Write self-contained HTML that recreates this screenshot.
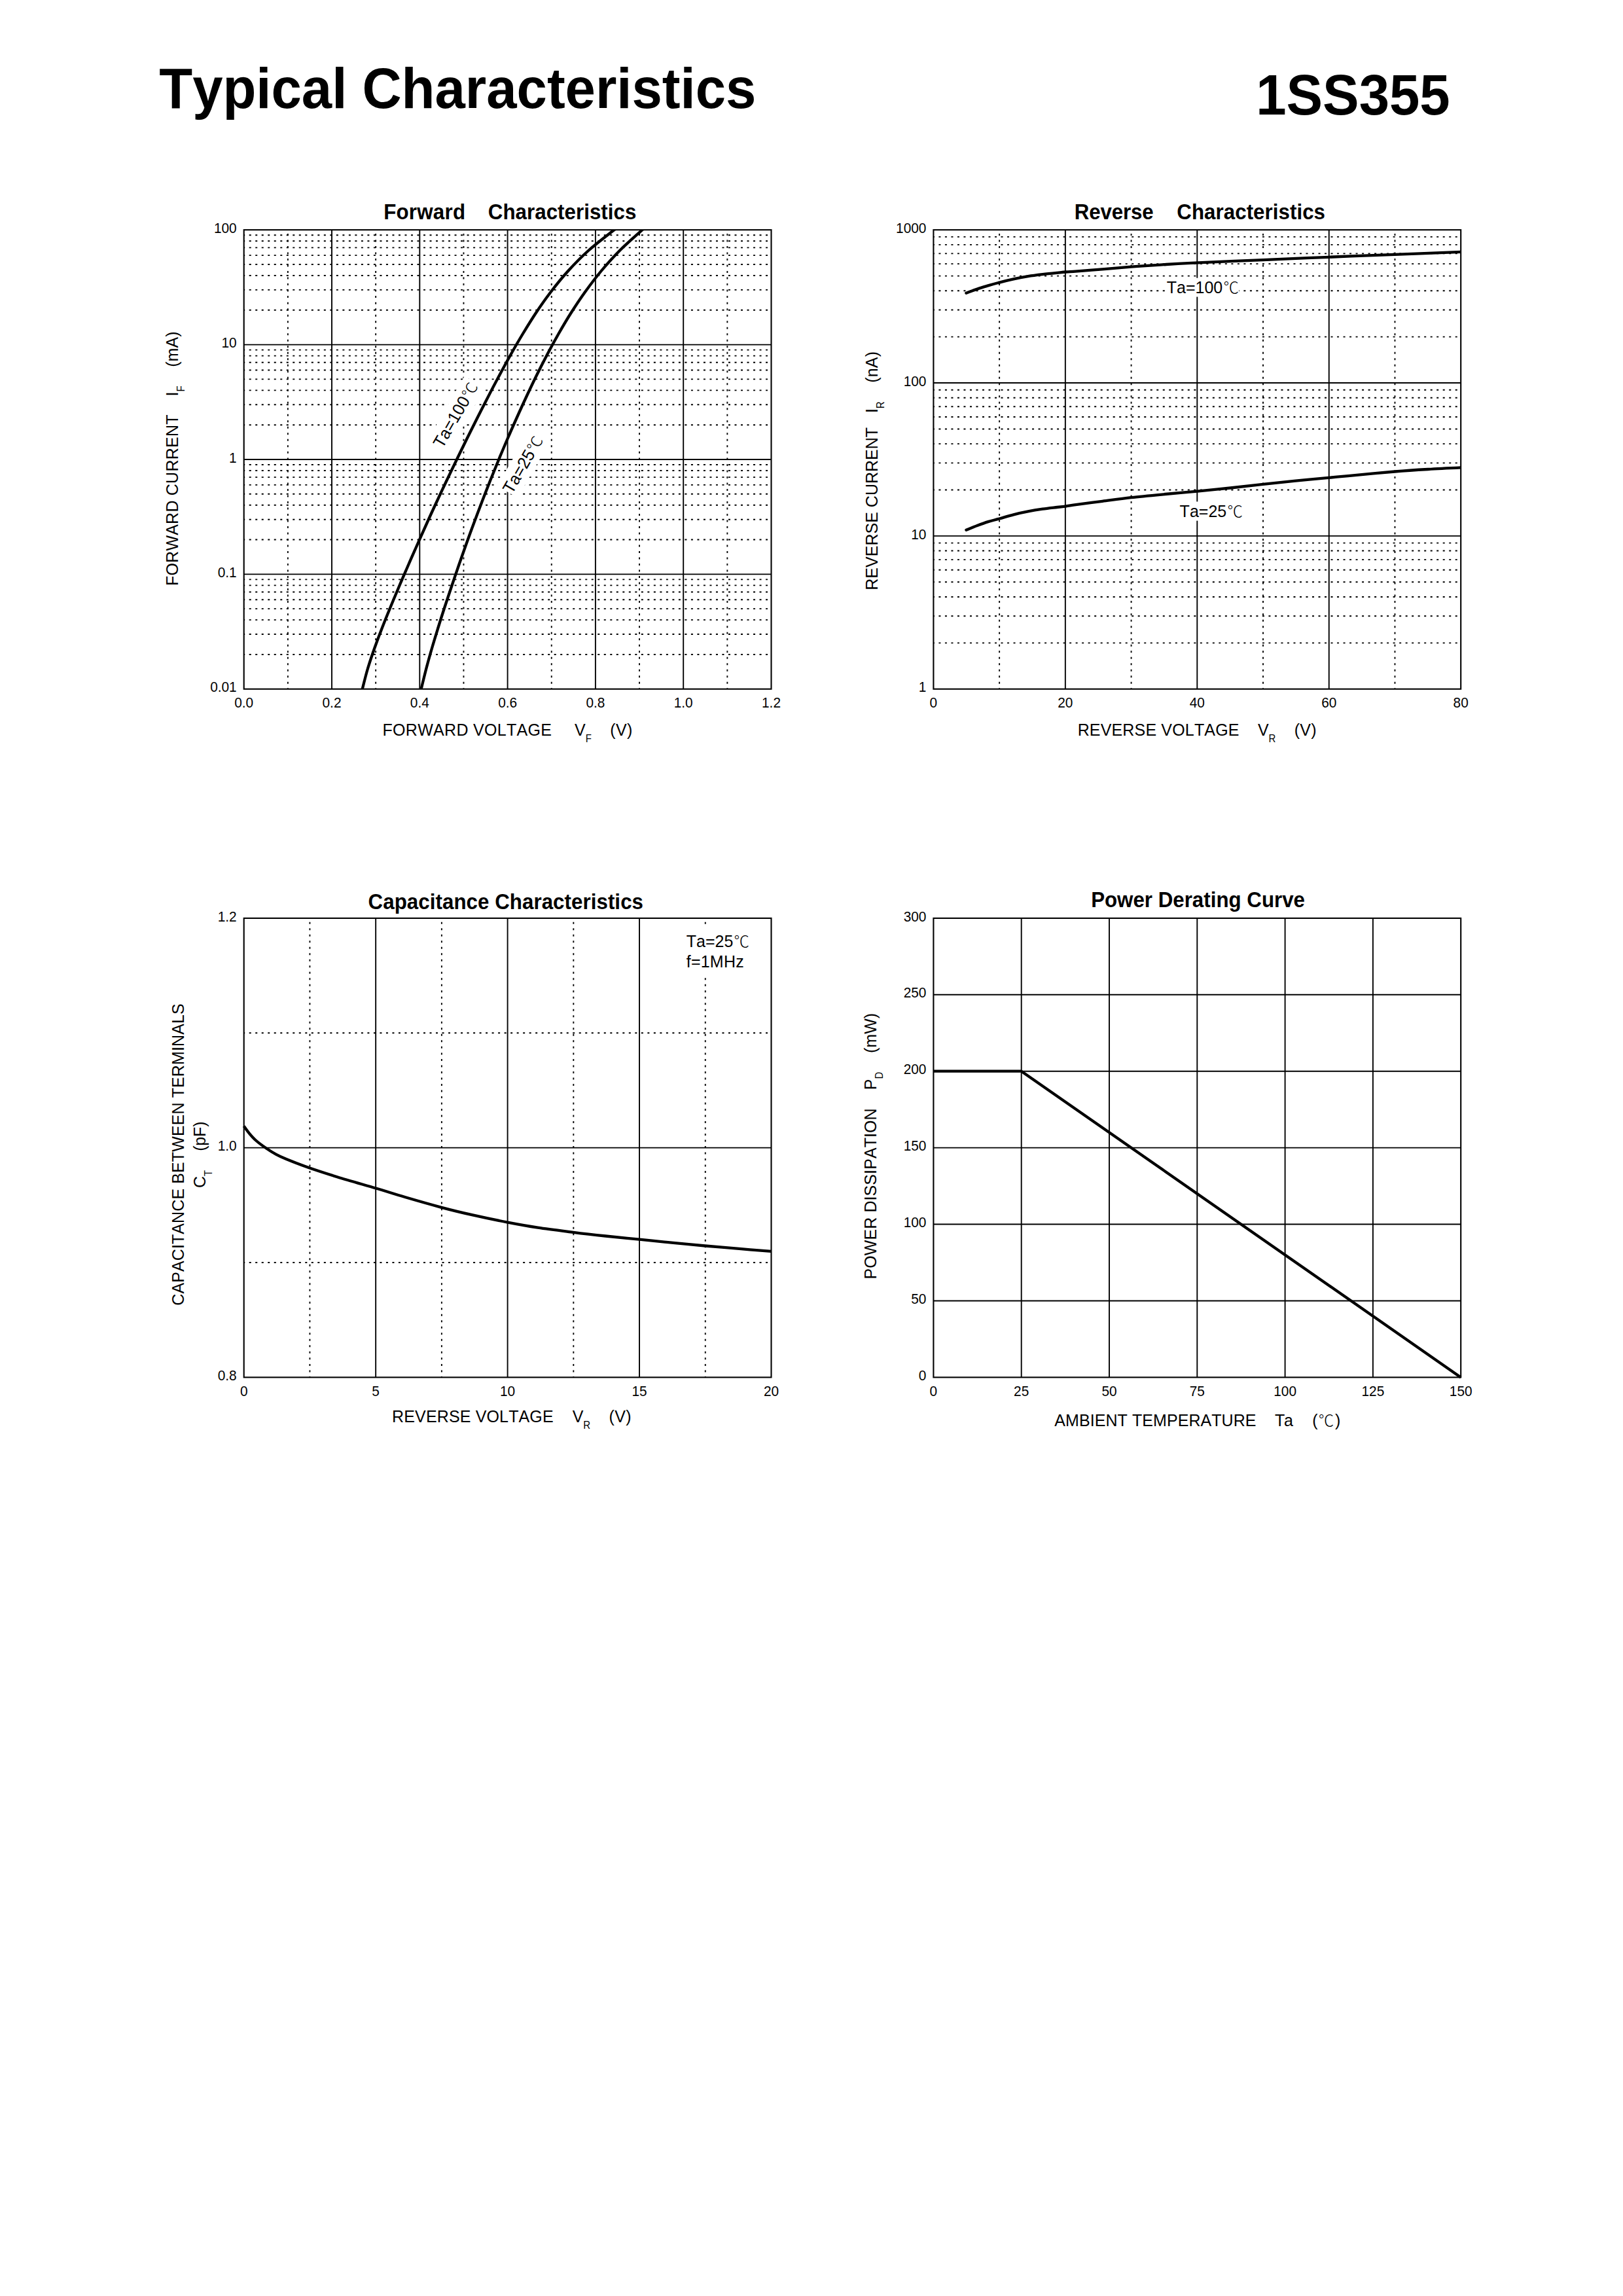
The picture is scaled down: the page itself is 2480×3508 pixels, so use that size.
<!DOCTYPE html>
<html lang="en"><head><meta charset="utf-8"><title>1SS355 Typical Characteristics</title>
<style>
html,body{margin:0;padding:0;background:#fff;}
body{width:2480px;height:3508px;overflow:hidden;}
svg{display:block;font-family:"Liberation Sans","Noto Sans CJK SC",sans-serif;font-kerning:none;fill:#000;}
text{white-space:pre;}
.g{stroke:#000;stroke-width:1.9;fill:none;}
.b{stroke:#000;stroke-width:2.1;fill:none;}
.d{stroke:#000;stroke-width:1.9;stroke-dasharray:3 6.510;stroke-dashoffset:1.5;fill:none;}
.c{stroke:#000;stroke-width:4.3;fill:none;stroke-linejoin:round;}
.r{stroke-linecap:round;}
.cjk{font-family:"Liberation Sans","Noto Sans CJK SC",sans-serif;font-weight:300;}
</style></head><body>
<svg width="2480" height="3508" viewBox="0 0 2480 3508">
<text transform="translate(243.30 164.70) scale(1 1.04)" font-size="83.33" font-weight="bold" textLength="912.08">Typical Characteristics</text>
<text transform="translate(1919.29 174.80) scale(1 1.04)" font-size="83.33" font-weight="bold" textLength="296.28">1SS355</text>
<clipPath id="cp1"><rect x="372.7" y="351.2" width="805.8" height="701.55"/></clipPath>
<line x1="439.85" y1="1052.75" x2="439.85" y2="351.20" class="d"/>
<line x1="574.15" y1="1052.75" x2="574.15" y2="351.20" class="d"/>
<line x1="708.45" y1="1052.75" x2="708.45" y2="351.20" class="d"/>
<line x1="842.75" y1="1052.75" x2="842.75" y2="351.20" class="d"/>
<line x1="977.05" y1="1052.75" x2="977.05" y2="351.20" class="d"/>
<line x1="1111.35" y1="1052.75" x2="1111.35" y2="351.20" class="d"/>
<line x1="372.70" y1="473.79" x2="1178.50" y2="473.79" class="d"/>
<line x1="372.70" y1="442.91" x2="1178.50" y2="442.91" class="d"/>
<line x1="372.70" y1="420.99" x2="1178.50" y2="420.99" class="d"/>
<line x1="372.70" y1="404.00" x2="1178.50" y2="404.00" class="d"/>
<line x1="372.70" y1="390.11" x2="1178.50" y2="390.11" class="d"/>
<line x1="372.70" y1="378.37" x2="1178.50" y2="378.37" class="d"/>
<line x1="372.70" y1="368.20" x2="1178.50" y2="368.20" class="d"/>
<line x1="372.70" y1="359.23" x2="1178.50" y2="359.23" class="d"/>
<line x1="372.70" y1="649.18" x2="1178.50" y2="649.18" class="d"/>
<line x1="372.70" y1="618.29" x2="1178.50" y2="618.29" class="d"/>
<line x1="372.70" y1="596.38" x2="1178.50" y2="596.38" class="d"/>
<line x1="372.70" y1="579.38" x2="1178.50" y2="579.38" class="d"/>
<line x1="372.70" y1="565.50" x2="1178.50" y2="565.50" class="d"/>
<line x1="372.70" y1="553.76" x2="1178.50" y2="553.76" class="d"/>
<line x1="372.70" y1="543.58" x2="1178.50" y2="543.58" class="d"/>
<line x1="372.70" y1="534.61" x2="1178.50" y2="534.61" class="d"/>
<line x1="372.70" y1="824.57" x2="1178.50" y2="824.57" class="d"/>
<line x1="372.70" y1="793.68" x2="1178.50" y2="793.68" class="d"/>
<line x1="372.70" y1="771.77" x2="1178.50" y2="771.77" class="d"/>
<line x1="372.70" y1="754.77" x2="1178.50" y2="754.77" class="d"/>
<line x1="372.70" y1="740.88" x2="1178.50" y2="740.88" class="d"/>
<line x1="372.70" y1="729.14" x2="1178.50" y2="729.14" class="d"/>
<line x1="372.70" y1="718.97" x2="1178.50" y2="718.97" class="d"/>
<line x1="372.70" y1="710.00" x2="1178.50" y2="710.00" class="d"/>
<line x1="372.70" y1="999.95" x2="1178.50" y2="999.95" class="d"/>
<line x1="372.70" y1="969.07" x2="1178.50" y2="969.07" class="d"/>
<line x1="372.70" y1="947.16" x2="1178.50" y2="947.16" class="d"/>
<line x1="372.70" y1="930.16" x2="1178.50" y2="930.16" class="d"/>
<line x1="372.70" y1="916.27" x2="1178.50" y2="916.27" class="d"/>
<line x1="372.70" y1="904.53" x2="1178.50" y2="904.53" class="d"/>
<line x1="372.70" y1="894.36" x2="1178.50" y2="894.36" class="d"/>
<line x1="372.70" y1="885.39" x2="1178.50" y2="885.39" class="d"/>
<line x1="507.00" y1="351.20" x2="507.00" y2="1052.75" class="g"/>
<line x1="641.30" y1="351.20" x2="641.30" y2="1052.75" class="g"/>
<line x1="775.60" y1="351.20" x2="775.60" y2="1052.75" class="g"/>
<line x1="909.90" y1="351.20" x2="909.90" y2="1052.75" class="g"/>
<line x1="1044.20" y1="351.20" x2="1044.20" y2="1052.75" class="g"/>
<line x1="372.70" y1="526.59" x2="1178.50" y2="526.59" class="g"/>
<line x1="372.70" y1="701.97" x2="1178.50" y2="701.97" class="g"/>
<line x1="372.70" y1="877.36" x2="1178.50" y2="877.36" class="g"/>
<rect x="676.20" y="659.40" width="113.00" height="36.00" fill="#fff" transform="rotate(-60 676.20 685.90)"/>
<rect x="782.60" y="729.20" width="99.00" height="36.00" fill="#fff" transform="rotate(-60 782.60 755.70)"/>
<rect x="372.70" y="351.20" width="805.80" height="701.55" class="b"/>
<text transform="translate(586.15 335.30) scale(1 1.04)" font-size="31.25" font-weight="bold" textLength="124.85">Forward</text>
<text transform="translate(745.82 335.30) scale(1 1.04)" font-size="31.25" font-weight="bold" textLength="226.54">Characteristics</text>
<text transform="translate(361.70 355.80) scale(1 1.04)" font-size="20.83" text-anchor="end">100</text>
<text transform="translate(361.70 531.19) scale(1 1.04)" font-size="20.83" text-anchor="end">10</text>
<text transform="translate(361.70 706.57) scale(1 1.04)" font-size="20.83" text-anchor="end">1</text>
<text transform="translate(361.70 881.96) scale(1 1.04)" font-size="20.83" text-anchor="end">0.1</text>
<text transform="translate(361.70 1057.35) scale(1 1.04)" font-size="20.83" text-anchor="end">0.01</text>
<text transform="translate(372.70 1080.95) scale(1 1.04)" font-size="20.83" text-anchor="middle">0.0</text>
<text transform="translate(507.00 1080.95) scale(1 1.04)" font-size="20.83" text-anchor="middle">0.2</text>
<text transform="translate(641.30 1080.95) scale(1 1.04)" font-size="20.83" text-anchor="middle">0.4</text>
<text transform="translate(775.60 1080.95) scale(1 1.04)" font-size="20.83" text-anchor="middle">0.6</text>
<text transform="translate(909.90 1080.95) scale(1 1.04)" font-size="20.83" text-anchor="middle">0.8</text>
<text transform="translate(1044.20 1080.95) scale(1 1.04)" font-size="20.83" text-anchor="middle">1.0</text>
<text transform="translate(1178.50 1080.95) scale(1 1.04)" font-size="20.83" text-anchor="middle">1.2</text>
<g clip-path="url(#cp1)">
<path d="M553.4,1054.0 C554.8,1048.7 558.6,1032.7 561.8,1022.0 C565.0,1011.3 568.6,1000.7 572.4,990.0 C576.2,979.3 580.2,968.7 584.4,958.0 C588.5,947.3 592.9,936.7 597.3,926.0 C601.7,915.3 606.2,904.7 610.7,894.0 C615.2,883.3 619.9,872.7 624.5,862.0 C629.1,851.3 633.9,840.7 638.6,830.0 C643.3,819.3 648.1,808.7 652.9,798.0 C657.7,787.3 662.6,776.7 667.6,766.0 C672.6,755.3 677.5,744.7 682.6,734.0 C687.7,723.3 692.8,712.7 698.0,702.0 C703.2,691.3 708.3,680.7 713.6,670.0 C718.9,659.3 724.2,648.7 729.6,638.0 C735.0,627.3 740.5,616.7 746.0,606.0 C751.5,595.3 757.1,584.7 762.8,574.0 C768.5,563.3 774.3,552.7 780.3,542.0 C786.3,531.3 792.4,520.7 798.9,510.0 C805.4,499.3 811.9,488.7 819.0,478.0 C826.1,467.3 833.5,456.7 841.7,446.0 C849.9,435.3 858.4,424.7 868.1,414.0 C877.8,403.3 888.1,392.7 900.1,382.0 C912.1,371.3 933.4,355.3 940.0,350.0" class="c"/>
<path d="M643.3,1054.0 C644.6,1048.7 648.4,1032.7 651.2,1022.0 C654.0,1011.3 657.0,1000.7 660.1,990.0 C663.2,979.3 666.5,968.7 669.8,958.0 C673.1,947.3 676.5,936.7 680.0,926.0 C683.5,915.3 687.1,904.7 690.7,894.0 C694.3,883.3 697.9,872.7 701.6,862.0 C705.3,851.3 709.1,840.7 712.9,830.0 C716.7,819.3 720.6,808.7 724.6,798.0 C728.6,787.3 732.6,776.7 736.7,766.0 C740.8,755.3 745.0,744.7 749.2,734.0 C753.5,723.3 757.8,712.7 762.2,702.0 C766.6,691.3 771.1,680.7 775.7,670.0 C780.3,659.3 785.0,648.7 789.8,638.0 C794.6,627.3 799.4,616.7 804.4,606.0 C809.4,595.3 814.4,584.7 819.7,574.0 C825.0,563.3 830.4,552.7 836.0,542.0 C841.6,531.3 847.4,520.7 853.5,510.0 C859.6,499.3 865.8,488.7 872.6,478.0 C879.4,467.3 886.4,456.7 894.1,446.0 C901.8,435.3 909.8,424.7 918.7,414.0 C927.7,403.3 937.1,392.7 947.8,382.0 C958.5,371.3 977.0,355.3 982.9,350.0" class="c"/>
</g>
<text transform="translate(676.20 685.90) rotate(-60) scale(1 1.04)" font-size="25">Ta=100</text>
<text transform="translate(719.54 610.83) rotate(-60)" font-size="23.5" class="cjk">℃</text>
<text transform="translate(782.60 755.70) rotate(-60) scale(1 1.04)" font-size="25">Ta=25</text>
<text transform="translate(818.99 692.67) rotate(-60)" font-size="23.5" class="cjk">℃</text>
<text transform="translate(584.45 1124.00) scale(1 1.04)" font-size="25" textLength="258.50">FORWARD VOLTAGE</text>
<text transform="translate(878.10 1124.00) scale(1 1.04)" font-size="25">V</text>
<text transform="translate(894.77 1134.10) scale(1 1.04)" font-size="15">F</text>
<text transform="translate(932.33 1124.00) scale(1 1.04)" font-size="25" textLength="34.07">(V)</text>
<text transform="translate(272.20 895.05) rotate(-90) scale(1 1.04)" font-size="25" textLength="261.48">FORWARD CURRENT</text>
<text transform="translate(272.20 605.40) rotate(-90) scale(1 1.04)" font-size="25">I</text>
<text transform="translate(282.30 598.45) rotate(-90) scale(1 1.04)" font-size="15">F</text>
<text transform="translate(272.20 560.77) rotate(-90) scale(1 1.04)" font-size="25" textLength="54.27">(mA)</text>
<line x1="1527.12" y1="1052.75" x2="1527.12" y2="351.20" class="d"/>
<line x1="1728.58" y1="1052.75" x2="1728.58" y2="351.20" class="d"/>
<line x1="1930.02" y1="1052.75" x2="1930.02" y2="351.20" class="d"/>
<line x1="2131.47" y1="1052.75" x2="2131.47" y2="351.20" class="d"/>
<line x1="1426.40" y1="514.65" x2="2232.20" y2="514.65" class="d"/>
<line x1="1426.40" y1="473.48" x2="2232.20" y2="473.48" class="d"/>
<line x1="1426.40" y1="444.26" x2="2232.20" y2="444.26" class="d"/>
<line x1="1426.40" y1="421.60" x2="2232.20" y2="421.60" class="d"/>
<line x1="1426.40" y1="403.08" x2="2232.20" y2="403.08" class="d"/>
<line x1="1426.40" y1="387.42" x2="2232.20" y2="387.42" class="d"/>
<line x1="1426.40" y1="373.86" x2="2232.20" y2="373.86" class="d"/>
<line x1="1426.40" y1="361.90" x2="2232.20" y2="361.90" class="d"/>
<line x1="1426.40" y1="748.50" x2="2232.20" y2="748.50" class="d"/>
<line x1="1426.40" y1="707.33" x2="2232.20" y2="707.33" class="d"/>
<line x1="1426.40" y1="678.11" x2="2232.20" y2="678.11" class="d"/>
<line x1="1426.40" y1="655.45" x2="2232.20" y2="655.45" class="d"/>
<line x1="1426.40" y1="636.93" x2="2232.20" y2="636.93" class="d"/>
<line x1="1426.40" y1="621.27" x2="2232.20" y2="621.27" class="d"/>
<line x1="1426.40" y1="607.71" x2="2232.20" y2="607.71" class="d"/>
<line x1="1426.40" y1="595.75" x2="2232.20" y2="595.75" class="d"/>
<line x1="1426.40" y1="982.35" x2="2232.20" y2="982.35" class="d"/>
<line x1="1426.40" y1="941.18" x2="2232.20" y2="941.18" class="d"/>
<line x1="1426.40" y1="911.96" x2="2232.20" y2="911.96" class="d"/>
<line x1="1426.40" y1="889.30" x2="2232.20" y2="889.30" class="d"/>
<line x1="1426.40" y1="870.78" x2="2232.20" y2="870.78" class="d"/>
<line x1="1426.40" y1="855.12" x2="2232.20" y2="855.12" class="d"/>
<line x1="1426.40" y1="841.56" x2="2232.20" y2="841.56" class="d"/>
<line x1="1426.40" y1="829.60" x2="2232.20" y2="829.60" class="d"/>
<line x1="1627.85" y1="351.20" x2="1627.85" y2="1052.75" class="g"/>
<line x1="1829.30" y1="351.20" x2="1829.30" y2="1052.75" class="g"/>
<line x1="2030.75" y1="351.20" x2="2030.75" y2="1052.75" class="g"/>
<line x1="1426.40" y1="585.05" x2="2232.20" y2="585.05" class="g"/>
<line x1="1426.40" y1="818.90" x2="2232.20" y2="818.90" class="g"/>
<rect x="1780.70" y="424.70" width="112.50" height="28.80" fill="#fff"/>
<rect x="1800.60" y="766.40" width="98.60" height="29.20" fill="#fff"/>
<rect x="1426.40" y="351.20" width="805.80" height="701.55" class="b"/>
<text transform="translate(1641.85 335.30) scale(1 1.04)" font-size="31.25" font-weight="bold" textLength="120.73">Reverse</text>
<text transform="translate(1798.32 335.30) scale(1 1.04)" font-size="31.25" font-weight="bold" textLength="226.64">Characteristics</text>
<text transform="translate(1415.40 355.80) scale(1 1.04)" font-size="20.83" text-anchor="end">1000</text>
<text transform="translate(1415.40 589.65) scale(1 1.04)" font-size="20.83" text-anchor="end">100</text>
<text transform="translate(1415.40 823.50) scale(1 1.04)" font-size="20.83" text-anchor="end">10</text>
<text transform="translate(1415.40 1057.35) scale(1 1.04)" font-size="20.83" text-anchor="end">1</text>
<text transform="translate(1426.40 1080.95) scale(1 1.04)" font-size="20.83" text-anchor="middle">0</text>
<text transform="translate(1627.85 1080.95) scale(1 1.04)" font-size="20.83" text-anchor="middle">20</text>
<text transform="translate(1829.30 1080.95) scale(1 1.04)" font-size="20.83" text-anchor="middle">40</text>
<text transform="translate(2030.75 1080.95) scale(1 1.04)" font-size="20.83" text-anchor="middle">60</text>
<text transform="translate(2232.20 1080.95) scale(1 1.04)" font-size="20.83" text-anchor="middle">80</text>
<clipPath id="cp2"><rect x="1426.4" y="351.2" width="805.7999999999997" height="701.55"/></clipPath>
<g clip-path="url(#cp2)">
<path d="M1476.4,447.7 C1479.2,446.7 1487.7,443.5 1493.3,441.6 C1498.9,439.7 1504.3,438.1 1509.9,436.4 C1515.5,434.7 1520.6,433.3 1527.1,431.6 C1533.6,429.9 1541.4,428.0 1548.7,426.4 C1556.0,424.8 1563.5,423.4 1570.9,422.2 C1578.3,421.0 1585.7,420.1 1593.1,419.2 C1600.5,418.3 1609.4,417.4 1615.3,416.8 C1621.2,416.2 1624.5,415.8 1628.6,415.5 C1632.7,415.2 1630.7,415.5 1640.0,414.8 C1649.3,414.1 1669.7,412.5 1684.4,411.3 C1699.1,410.1 1713.6,408.8 1728.4,407.7 C1743.2,406.6 1757.8,405.6 1773.1,404.6 C1788.4,403.6 1793.8,403.1 1820.0,401.8 C1846.2,400.6 1894.9,398.6 1930.0,397.1 C1965.1,395.6 1997.0,394.2 2030.5,392.8 C2064.0,391.4 2097.1,390.2 2131.0,388.9 C2164.9,387.6 2216.8,385.6 2234.0,384.9" class="c r"/>
<path d="M1476.4,809.7 C1479.2,808.6 1487.7,805.1 1493.3,803.0 C1498.9,800.9 1504.3,798.9 1509.9,797.1 C1515.5,795.4 1520.6,794.3 1527.1,792.5 C1533.6,790.7 1541.4,788.1 1548.7,786.3 C1556.0,784.4 1563.5,782.8 1570.9,781.4 C1578.3,780.0 1585.7,778.8 1593.1,777.7 C1600.5,776.6 1609.4,775.7 1615.3,775.0 C1621.2,774.3 1624.5,774.0 1628.6,773.5 C1632.7,773.0 1630.7,773.0 1640.0,771.7 C1649.3,770.4 1669.7,767.7 1684.4,765.8 C1699.1,763.9 1712.4,762.0 1728.4,760.2 C1744.4,758.4 1763.7,756.6 1780.5,755.0 C1797.3,753.4 1812.7,752.2 1829.3,750.6 C1845.9,749.0 1863.2,747.2 1880.0,745.5 C1896.8,743.7 1913.3,741.7 1929.9,739.9 C1946.5,738.1 1963.1,736.4 1979.8,734.7 C1996.5,733.0 2016.9,731.2 2030.3,729.9 C2043.7,728.6 2043.2,728.7 2060.0,727.1 C2076.8,725.5 2110.9,722.2 2131.2,720.5 C2151.5,718.8 2164.9,718.0 2182.0,717.0 C2199.1,715.9 2225.3,714.7 2234.0,714.3" class="c r"/>
</g>
<text transform="translate(1782.71 447.70) scale(1 1.04)" font-size="25">Ta=100</text>
<text transform="translate(1869.40 447.70)" font-size="23.5" class="cjk">℃</text>
<text transform="translate(1802.61 789.90) scale(1 1.04)" font-size="25">Ta=25</text>
<text transform="translate(1875.39 789.90)" font-size="23.5" class="cjk">℃</text>
<text transform="translate(1646.65 1124.00) scale(1 1.04)" font-size="25" textLength="246.80">REVERSE VOLTAGE</text>
<text transform="translate(1921.90 1124.00) scale(1 1.04)" font-size="25">V</text>
<text transform="translate(1938.57 1134.10) scale(1 1.04)" font-size="15">R</text>
<text transform="translate(1977.73 1124.00) scale(1 1.04)" font-size="25" textLength="33.87">(V)</text>
<text transform="translate(1340.60 901.75) rotate(-90) scale(1 1.04)" font-size="25" textLength="248.88">REVERSE CURRENT</text>
<text transform="translate(1340.60 631.10) rotate(-90) scale(1 1.04)" font-size="25">I</text>
<text transform="translate(1350.70 624.15) rotate(-90) scale(1 1.04)" font-size="15">R</text>
<text transform="translate(1340.60 584.67) rotate(-90) scale(1 1.04)" font-size="25" textLength="47.67">(nA)</text>
<line x1="473.42" y1="2104.40" x2="473.42" y2="1402.90" class="d"/>
<line x1="674.88" y1="2104.40" x2="674.88" y2="1402.90" class="d"/>
<line x1="876.33" y1="2104.40" x2="876.33" y2="1402.90" class="d"/>
<line x1="1077.77" y1="2104.40" x2="1077.77" y2="1402.90" class="d"/>
<line x1="372.70" y1="1578.28" x2="1178.50" y2="1578.28" class="d"/>
<line x1="372.70" y1="1929.03" x2="1178.50" y2="1929.03" class="d"/>
<line x1="574.15" y1="1402.90" x2="574.15" y2="2104.40" class="g"/>
<line x1="775.60" y1="1402.90" x2="775.60" y2="2104.40" class="g"/>
<line x1="977.05" y1="1402.90" x2="977.05" y2="2104.40" class="g"/>
<line x1="372.70" y1="1753.65" x2="1178.50" y2="1753.65" class="g"/>
<rect x="1036.20" y="1416.40" width="121.00" height="73.70" fill="#fff"/>
<rect x="372.70" y="1402.90" width="805.80" height="701.50" class="b"/>
<text transform="translate(562.62 1388.80) scale(1 1.04)" font-size="31.25" font-weight="bold" textLength="420.34">Capacitance Characteristics</text>
<text transform="translate(361.70 1407.50) scale(1 1.04)" font-size="20.83" text-anchor="end">1.2</text>
<text transform="translate(361.70 1758.25) scale(1 1.04)" font-size="20.83" text-anchor="end">1.0</text>
<text transform="translate(361.70 2109.00) scale(1 1.04)" font-size="20.83" text-anchor="end">0.8</text>
<text transform="translate(372.70 2132.60) scale(1 1.04)" font-size="20.83" text-anchor="middle">0</text>
<text transform="translate(574.15 2132.60) scale(1 1.04)" font-size="20.83" text-anchor="middle">5</text>
<text transform="translate(775.60 2132.60) scale(1 1.04)" font-size="20.83" text-anchor="middle">10</text>
<text transform="translate(977.05 2132.60) scale(1 1.04)" font-size="20.83" text-anchor="middle">15</text>
<text transform="translate(1178.50 2132.60) scale(1 1.04)" font-size="20.83" text-anchor="middle">20</text>
<path d="M372.7,1720.5 C374.0,1722.3 377.6,1727.7 380.7,1731.4 C383.8,1735.1 386.8,1738.7 391.1,1742.5 C395.4,1746.3 401.4,1750.7 406.6,1754.2 C411.8,1757.8 416.9,1761.0 422.1,1763.8 C427.3,1766.6 429.1,1767.5 437.6,1771.0 C446.1,1774.5 460.2,1780.0 473.1,1784.5 C486.1,1789.0 498.4,1793.0 515.3,1798.2 C532.2,1803.4 557.0,1810.4 574.3,1815.5 C591.5,1820.6 602.1,1824.1 618.8,1829.0 C635.5,1833.9 657.5,1840.2 674.7,1844.8 C692.0,1849.4 705.4,1852.6 722.3,1856.4 C739.1,1860.2 759.2,1864.4 775.8,1867.6 C792.4,1870.8 805.1,1873.1 821.8,1875.6 C838.5,1878.1 858.9,1880.6 876.1,1882.8 C893.4,1885.0 908.5,1886.7 925.3,1888.5 C942.1,1890.3 959.8,1892.0 977.0,1893.7 C994.2,1895.4 1012.0,1897.3 1028.8,1898.9 C1045.5,1900.5 1060.2,1902.0 1077.5,1903.5 C1094.8,1905.0 1115.5,1906.8 1132.3,1908.2 C1149.1,1909.6 1170.8,1911.2 1178.5,1911.8" class="c"/>
<text transform="translate(1048.71 1446.90) scale(1 1.04)" font-size="25">Ta=25</text>
<text transform="translate(1121.49 1446.90)" font-size="23.5" class="cjk">℃</text>
<text transform="translate(1048.80 1478.00) scale(1 1.04)" font-size="25" textLength="87.87">f=1MHz</text>
<text transform="translate(599.05 2173.30) scale(1 1.04)" font-size="25" textLength="246.60">REVERSE VOLTAGE</text>
<text transform="translate(874.70 2173.30) scale(1 1.04)" font-size="25">V</text>
<text transform="translate(891.37 2183.40) scale(1 1.04)" font-size="15">R</text>
<text transform="translate(930.53 2173.30) scale(1 1.04)" font-size="25" textLength="33.97">(V)</text>
<text transform="translate(281.40 1994.77) rotate(-90) scale(1 1.04)" font-size="25" textLength="461.42">CAPACITANCE BETWEEN TERMINALS</text>
<text transform="translate(313.70 1814.97) rotate(-90) scale(1 1.04)" font-size="25">C</text>
<text transform="translate(323.80 1796.92) rotate(-90) scale(1 1.04)" font-size="15">T</text>
<text transform="translate(313.70 1758.87) rotate(-90) scale(1 1.04)" font-size="25" textLength="45.37">(pF)</text>
<line x1="1560.70" y1="1402.90" x2="1560.70" y2="2104.40" class="g"/>
<line x1="1695.00" y1="1402.90" x2="1695.00" y2="2104.40" class="g"/>
<line x1="1829.30" y1="1402.90" x2="1829.30" y2="2104.40" class="g"/>
<line x1="1963.60" y1="1402.90" x2="1963.60" y2="2104.40" class="g"/>
<line x1="2097.90" y1="1402.90" x2="2097.90" y2="2104.40" class="g"/>
<line x1="1426.40" y1="1519.82" x2="2232.20" y2="1519.82" class="g"/>
<line x1="1426.40" y1="1636.73" x2="2232.20" y2="1636.73" class="g"/>
<line x1="1426.40" y1="1753.65" x2="2232.20" y2="1753.65" class="g"/>
<line x1="1426.40" y1="1870.57" x2="2232.20" y2="1870.57" class="g"/>
<line x1="1426.40" y1="1987.48" x2="2232.20" y2="1987.48" class="g"/>
<rect x="1426.40" y="1402.90" width="805.80" height="701.50" class="b"/>
<text transform="translate(1667.15 1385.60) scale(1 1.04)" font-size="31.25" font-weight="bold" textLength="326.83">Power Derating Curve</text>
<text transform="translate(1415.40 1407.50) scale(1 1.04)" font-size="20.83" text-anchor="end">300</text>
<text transform="translate(1415.40 1524.42) scale(1 1.04)" font-size="20.83" text-anchor="end">250</text>
<text transform="translate(1415.40 1641.33) scale(1 1.04)" font-size="20.83" text-anchor="end">200</text>
<text transform="translate(1415.40 1758.25) scale(1 1.04)" font-size="20.83" text-anchor="end">150</text>
<text transform="translate(1415.40 1875.17) scale(1 1.04)" font-size="20.83" text-anchor="end">100</text>
<text transform="translate(1415.40 1992.08) scale(1 1.04)" font-size="20.83" text-anchor="end">50</text>
<text transform="translate(1415.40 2109.00) scale(1 1.04)" font-size="20.83" text-anchor="end">0</text>
<text transform="translate(1426.40 2132.60) scale(1 1.04)" font-size="20.83" text-anchor="middle">0</text>
<text transform="translate(1560.70 2132.60) scale(1 1.04)" font-size="20.83" text-anchor="middle">25</text>
<text transform="translate(1695.00 2132.60) scale(1 1.04)" font-size="20.83" text-anchor="middle">50</text>
<text transform="translate(1829.30 2132.60) scale(1 1.04)" font-size="20.83" text-anchor="middle">75</text>
<text transform="translate(1963.60 2132.60) scale(1 1.04)" font-size="20.83" text-anchor="middle">100</text>
<text transform="translate(2097.90 2132.60) scale(1 1.04)" font-size="20.83" text-anchor="middle">125</text>
<text transform="translate(2232.20 2132.60) scale(1 1.04)" font-size="20.83" text-anchor="middle">150</text>
<path d="M1426.4,1636.7 L1560.7,1636.7 L2232.2,2104.4" class="c"/>
<text transform="translate(1611.30 2179.40) scale(1 1.04)" font-size="25" textLength="308.25">AMBIENT TEMPERATURE</text>
<text transform="translate(1947.91 2179.40) scale(1 1.04)" font-size="25" textLength="28.03">Ta</text>
<text transform="translate(2005.33 2179.40) scale(1 1.04)" font-size="25">(</text>
<text transform="translate(2014.85 2179.40)" font-size="23.5" class="cjk">℃</text>
<text transform="translate(2040.07 2179.40) scale(1 1.04)" font-size="25">)</text>
<text transform="translate(1338.90 1954.55) rotate(-90) scale(1 1.04)" font-size="25" textLength="261.19">POWER DISSIPATION</text>
<text transform="translate(1338.90 1665.25) rotate(-90) scale(1 1.04)" font-size="25">P</text>
<text transform="translate(1349.00 1648.58) rotate(-90) scale(1 1.04)" font-size="15">D</text>
<text transform="translate(1338.90 1609.07) rotate(-90) scale(1 1.04)" font-size="25" textLength="61.27">(mW)</text>
</svg>
</body></html>
